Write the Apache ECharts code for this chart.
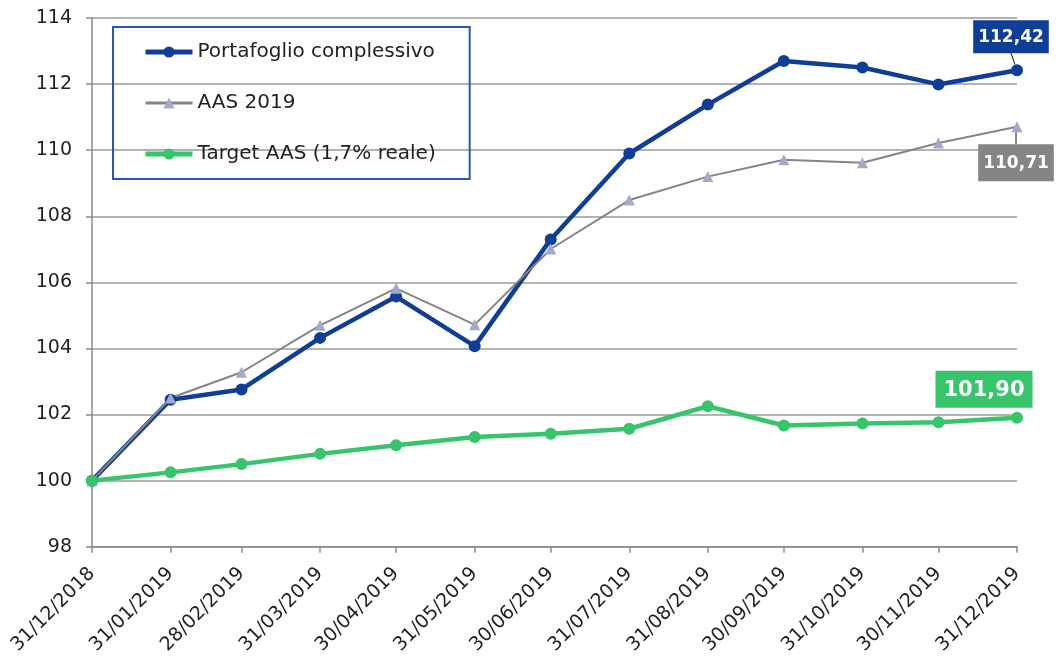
<!DOCTYPE html>
<html><head><meta charset="utf-8">
<script src="https://cdn.jsdelivr.net/npm/echarts@6/dist/echarts.min.js"></script>
<style>html,body{margin:0;padding:0;background:#fff}#c{width:1056px;height:657px}</style>
</head><body><div id="c"></div>
<script>
const dates = ['31/12/2018','31/01/2019','28/02/2019','31/03/2019','30/04/2019','31/05/2019','30/06/2019','31/07/2019','31/08/2019','30/09/2019','31/10/2019','30/11/2019','31/12/2019'];
const portafoglio = [100,102.45,102.76,104.32,105.57,104.07,107.30,109.90,111.38,112.70,112.50,111.99,112.42];
const aas2019 = [100,102.50,103.28,104.70,105.82,104.72,107.01,108.49,109.20,109.71,109.62,110.22,110.71];
const target = [100,100.25,100.50,100.81,101.07,101.32,101.42,101.57,102.25,101.67,101.73,101.77,101.90];
const seriesNames = ['Portafoglio complessivo','AAS 2019','Target AAS (1,7% reale)'];

const FONT = "'DejaVu Sans', sans-serif";
function dayOf(s){const [d,m,y]=s.split('/').map(Number);return Date.UTC(y,m-1,d)/86400000;}
const xs = dates.map(d => dayOf(d) - dayOf(dates[0]));
const fmt = v => v.toFixed(2).replace('.', ',');

const BLUE = '#0e3e97', GRAY = '#858585', TRI = '#a3a8cd', GREEN = '#37c56c';

function build(arr, labelCfg){
  return arr.map((v,i) => {
    if (i === arr.length - 1) return {value:[xs[i], v], label: Object.assign({show:true, formatter: p => fmt(p.value[1])}, labelCfg)};
    return [xs[i], v];
  });
}

const chart = echarts.init(document.getElementById('c'));
chart.setOption({
  animation:false,
  textStyle:{fontFamily:FONT},
  grid:{left:92, right:39, top:18, bottom:110},
  legend:{
    orient:'vertical', left:113, top:27,
    padding:[14,34,14,30],
    borderColor:'#2b55b0', borderWidth:2,
    itemWidth:47, itemHeight:14, itemGap:29,
    textStyle:{fontSize:20, color:'#222', fontFamily:FONT, lineHeight:22},
    data: [
      {name:seriesNames[0], lineStyle:{width:5}},
      {name:seriesNames[1], lineStyle:{width:3}},
      {name:seriesNames[2], lineStyle:{width:5}}
    ]
  },
  xAxis:{
    type:'value', min:xs[0], max:xs[xs.length-1],
    axisLine:{lineStyle:{color:'#8a8a8a', width:1.5}},
    axisTick:{show:true, length:6, customValues:xs, lineStyle:{color:'#8a8a8a', width:1.5}},
    axisLabel:{customValues:xs, rotate:45, fontSize:19, color:'#222', margin:24, fontFamily:FONT,
      formatter: v => dates[xs.indexOf(v)]},
    splitLine:{show:false}
  },
  yAxis:{
    type:'value', min:98, max:114, interval:2,
    axisLine:{show:true, lineStyle:{color:'#8a8a8a', width:1.5}},
    axisTick:{show:true, length:6, lineStyle:{color:'#8a8a8a', width:1.5}},
    axisLabel:{fontSize:19, color:'#222', margin:20, fontFamily:FONT},
    splitLine:{lineStyle:{color:'#9a9a9a', width:1.5}}
  },
  series:[
    {name:seriesNames[0], type:'line', symbol:'circle', symbolSize:12,
     lineStyle:{color:BLUE, width:4.5}, itemStyle:{color:BLUE},
     data: build(portafoglio, {position:'top', distance:5, backgroundColor:BLUE, color:'#fff', fontWeight:'bold', fontSize:17, padding:[9,5,7,5], fontFamily:FONT}),
     labelLayout:{dx:-6, dy:-6},
     labelLine:{show:true, lineStyle:{color:'#111', width:1}}
    },
    {name:seriesNames[1], type:'line', symbol:'triangle', symbolSize:11,
     lineStyle:{color:GRAY, width:2}, itemStyle:{color:TRI},
     data: build(aas2019, {position:'bottom', distance:5, backgroundColor:GRAY, color:'#fff', fontWeight:'bold', fontSize:17, padding:[11,5,9,5], fontFamily:FONT}),
     labelLayout:{dx:-1, dy:7},
     labelLine:{show:true, lineStyle:{color:'#111', width:1}}
    },
    {name:seriesNames[2], type:'line', symbol:'circle', symbolSize:12,
     lineStyle:{color:GREEN, width:4.5}, itemStyle:{color:GREEN},
     data: build(target, {position:'top', distance:4, offset:[-33,0], backgroundColor:GREEN, color:'#fff', fontWeight:'bold', fontSize:21, padding:[9,8,7,8], fontFamily:FONT})
    }
  ]
});
</script></body></html>
